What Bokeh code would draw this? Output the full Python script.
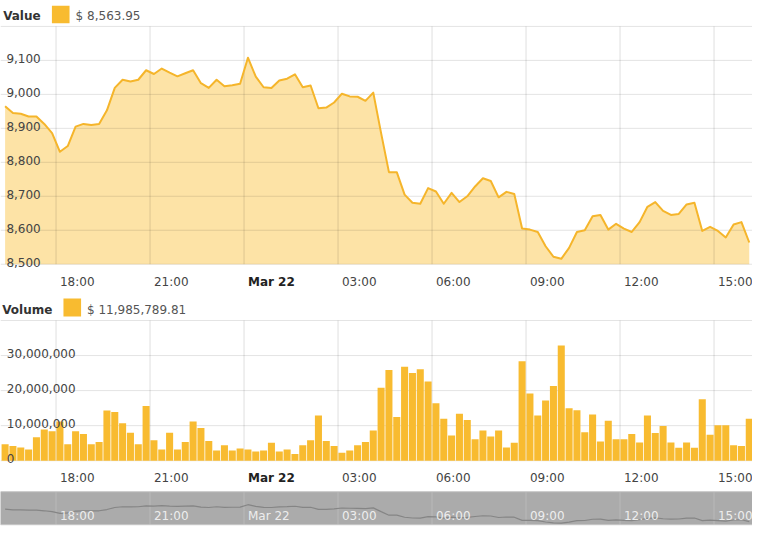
import numpy as np
from bokeh.plotting import figure
from bokeh.models import Range1d, ColumnDataSource
from bokeh.layouts import column
from bokeh.embed import file_html
from bokeh.resources import INLINE
from bokeh.core.properties import value

# ---------------- data ----------------
start_hour = 16.25          # 16:15 on Mar 21 (hours since Mar 21 00:00)
step_hours = 0.25           # 15-minute periods

prices = [
    8965, 8945, 8943, 8935, 8935, 8913, 8886, 8831, 8848, 8905, 8913, 8910,
    8913, 8953, 9019, 9043, 9038, 9043, 9071, 9060, 9076, 9064, 9053, 9062,
    9071, 9033, 9019, 9043, 9024, 9027, 9031, 9108, 9052, 9021, 9019, 9041,
    9046, 9059, 9021, 9026, 8959, 8961, 8976, 9002, 8994, 8993, 8981, 9005,
    8886, 8771, 8771, 8705, 8681, 8678, 8724, 8714, 8678, 8710, 8683, 8700,
    8729, 8753, 8745, 8697, 8713, 8707, 8605, 8602, 8595, 8553, 8522, 8516,
    8548, 8595, 8600, 8641, 8645, 8602, 8619, 8605, 8595, 8624, 8669, 8683,
    8657, 8645, 8648, 8676, 8681, 8598, 8610, 8598, 8579, 8617, 8624, 8563.95,
]

volumes_millions = [
    4.7, 4.2, 3.8, 3.2, 6.7, 8.9, 8.4, 11.2, 4.7, 8.4, 7.6, 4.7,
    5.3, 14.3, 13.9, 10.7, 8.0, 4.7, 15.6, 5.8, 3.2, 8.0, 3.2, 5.3,
    11.2, 9.3, 5.6, 2.9, 4.4, 2.9, 3.5, 3.2, 2.6, 2.9, 5.1, 2.6,
    3.2, 1.9, 4.4, 5.8, 12.9, 5.6, 4.2, 2.3, 2.9, 4.4, 5.3, 8.6,
    20.8, 25.9, 12.5, 26.8, 25.0, 26.1, 22.6, 16.4, 12.0, 7.2, 13.4, 11.6,
    6.1, 8.6, 6.9, 8.6, 3.8, 5.1, 28.4, 19.2, 12.9, 17.2, 21.3, 32.9,
    15.0, 14.4, 8.1, 13.2, 5.5, 11.4, 6.1, 6.1, 7.6, 5.2, 12.9, 7.9,
    9.9, 5.2, 3.7, 5.2, 3.7, 17.5, 7.4, 10.1, 10.1, 4.4, 4.2, 11.98578981,
]
volumes = [round(v * 1e6, 2) for v in volumes_millions]

x_ticks = [18, 21, 24, 27, 30, 33, 36, 39]
x_tick_labels = ["18:00", "21:00", "Mar 22", "03:00", "06:00", "09:00", "12:00", "15:00"]

price_grid = [8500, 8600, 8700, 8800, 8900, 9000, 9100, 9200]
price_tick_vals = [8500, 8600, 8700, 8800, 8900, 9000, 9100]
price_tick_labels = ["8,500", "8,600", "8,700", "8,800", "8,900", "9,000", "9,100"]

vol_grid = [0, 10_000_000, 20_000_000, 30_000_000, 40_000_000]
vol_tick_vals = [0, 10_000_000, 20_000_000, 30_000_000]
vol_tick_labels = ["0", "10,000,000", "20,000,000", "30,000,000"]

# ---------------- layout helpers ----------------
W = 752
SX = 752 / 768
SY = 530 / 546
hA, hB, hC = 291, 197, 42
FONT = value("DejaVu Sans")
TICK_FS = "12px"

def xh(px):  # reference pixel -> hours
    return 18 + (px - 56.7) / 32.0

X0, X1 = xh(0), xh(768)

def pyA(y):
    return 8500 + (271.7 - y) / 0.35

def pyB(y):
    return (474.3 - y) / 36.1 * 1e7

def pyC(y):
    return 9108 - (y - 519.7) * 31.2

spanA, spanB, spanC = hA / SY, hB / SY, hC / SY

times = [start_hour + step_hours * i for i in range(len(prices))]
centers = [t + step_hours / 2 for t in times]

def make_fig(h, y0, y1):
    p = figure(width=W, height=h, x_range=Range1d(X0, X1), y_range=Range1d(y0, y1),
               output_backend="svg", toolbar_location=None,
               x_axis_location=None, y_axis_location=None, min_border=0)
    p.outline_line_color = None
    p.grid.visible = False
    p.background_fill_color = "white"
    p.border_fill_color = "white"
    return p

styles = ["bold" if lbl.startswith("Mar") else "normal" for lbl in x_tick_labels]
label_colors = ["#222222" if s == "bold" else "#444444" for s in styles]

LINE_C = "#f5b52b"
FILL_C = "#fde3a6"
BAR_C = "#f8bb30"

# ---------------- value panel ----------------
pA = make_fig(hA, pyA(spanA), pyA(0))
pA.varea(x=centers, y1=price_grid[0], y2=prices, fill_color=FILL_C, fill_alpha=1.0)
pA.segment(x0=[X0] * len(price_grid), y0=price_grid, x1=[X1] * len(price_grid), y1=price_grid,
           line_color="black", line_alpha=0.11, line_width=1)
pA.segment(x0=x_ticks, y0=[price_grid[0]] * len(x_ticks), x1=x_ticks, y1=[price_grid[-1]] * len(x_ticks),
           line_color="black", line_alpha=0.13, line_width=1)
pA.line(centers, prices, line_color=LINE_C, line_width=2, line_join="round")
pA.text(x=[X0] * len(price_tick_vals), y=price_tick_vals, text=price_tick_labels,
        x_offset=6 * SX, y_offset=-2, text_align="left", text_baseline="alphabetic",
        text_font=FONT, text_font_size=TICK_FS, text_color="#444444")
srcA = ColumnDataSource(dict(x=x_ticks, y=[pyA(290)] * len(x_ticks), t=x_tick_labels, s=styles, c=label_colors))
pA.text(x="x", y="y", text="t", source=srcA, x_offset=4 * SX, text_align="left", text_baseline="middle",
        text_font=FONT, text_font_size=TICK_FS, text_font_style="s", text_color="c")
# legend
pA.text(x=[xh(2.7)], y=[pyA(16)], text=["Value"], text_align="left", text_baseline="middle",
        text_font=FONT, text_font_size="12px", text_font_style="bold", text_color="#333333")
pA.quad(left=[xh(52.5)], right=[xh(70.5)], bottom=[pyA(23.5)], top=[pyA(5.5)],
        fill_color=BAR_C, line_color=None)
pA.text(x=[xh(76.7)], y=[pyA(16)], text=[f"$ {prices[-1]:,.2f}"], text_align="left", text_baseline="middle",
        text_font=FONT, text_font_size="12px", text_color="#555555")

# ---------------- volume panel ----------------
pB = make_fig(hB, pyB(300 + spanB), pyB(300))
pB.segment(x0=[X0] * len(vol_grid), y0=vol_grid, x1=[X1] * len(vol_grid), y1=vol_grid,
           line_color="black", line_alpha=0.11, line_width=1)
pB.segment(x0=x_ticks, y0=[vol_grid[0]] * len(x_ticks), x1=x_ticks, y1=[vol_grid[-1]] * len(x_ticks),
           line_color="black", line_alpha=0.13, line_width=1)
pB.vbar(x=centers, width=step_hours * 0.9, top=volumes, bottom=0, fill_color=BAR_C, line_color=None)
pB.text(x=[X0] * len(vol_tick_vals), y=vol_tick_vals, text=vol_tick_labels,
        x_offset=6.5 * SX, y_offset=-2, text_align="left", text_baseline="alphabetic",
        text_font=FONT, text_font_size=TICK_FS, text_color="#444444")
srcB = ColumnDataSource(dict(x=x_ticks, y=[pyB(492)] * len(x_ticks), t=x_tick_labels, s=styles, c=label_colors))
pB.text(x="x", y="y", text="t", source=srcB, x_offset=4 * SX, text_align="left", text_baseline="middle",
        text_font=FONT, text_font_size=TICK_FS, text_font_style="s", text_color="c")
pB.text(x=[xh(1.7)], y=[pyB(319.3)], text=["Volume"], text_align="left", text_baseline="middle",
        text_font=FONT, text_font_size="12px", text_font_style="bold", text_color="#333333")
pB.quad(left=[xh(64.3)], right=[xh(82.3)], bottom=[pyB(325.7)], top=[pyB(307.3)],
        fill_color=BAR_C, line_color=None)
pB.text(x=[xh(88.3)], y=[pyB(319.3)], text=[f"$ {volumes[-1]:,.2f}"], text_align="left", text_baseline="middle",
        text_font=FONT, text_font_size="12px", text_color="#555555")

# ---------------- navigator ----------------
pC = make_fig(hC, pyC(503 + spanC), pyC(503))
pC.quad(left=[X0], right=[X1], bottom=[pyC(540.3)], top=[pyC(506.3)],
        fill_color="#ababab", line_color="#c6c6c6", line_width=1)
pC.segment(x0=x_ticks, y0=[pyC(540)] * len(x_ticks), x1=x_ticks, y1=[pyC(507)] * len(x_ticks),
           line_color="white", line_alpha=0.18, line_width=1)
pC.line(centers, prices, line_color="#858585", line_width=1.2)
pC.text(x=x_ticks, y=[pyC(531.3)] * len(x_ticks), text=x_tick_labels,
        x_offset=4 * SX, text_align="left", text_baseline="middle",
        text_font=FONT, text_font_size=TICK_FS, text_color="#f6f6f6", text_alpha=0.9)

layout = column(pA, pB, pC, spacing=0)
open("out.html", "w").write(file_html(layout, INLINE))
